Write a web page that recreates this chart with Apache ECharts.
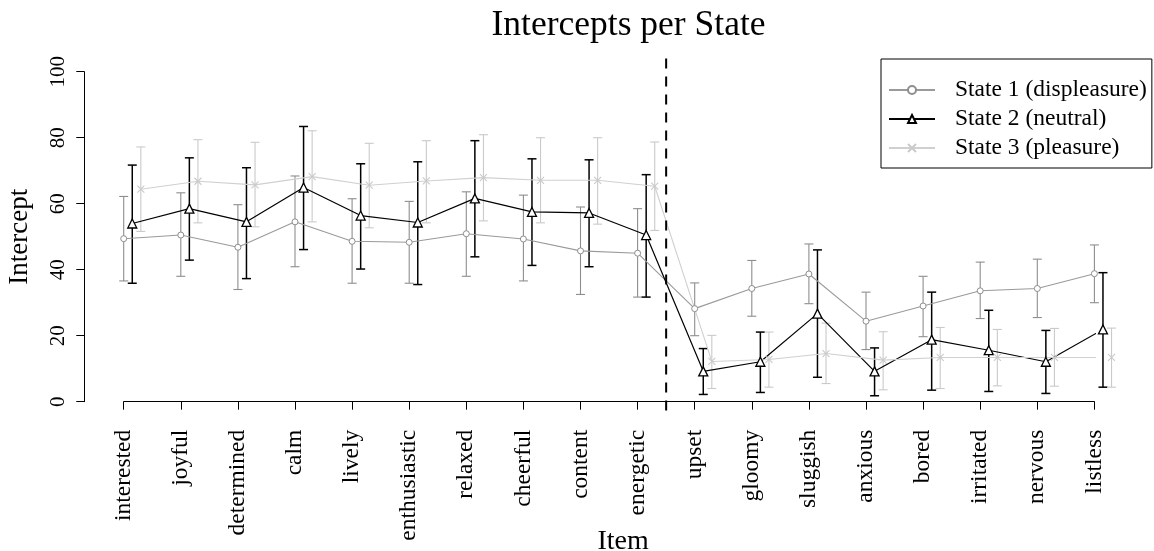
<!DOCTYPE html>
<html>
<head>
<meta charset="utf-8">
<script src="https://cdn.jsdelivr.net/npm/echarts@6/dist/echarts.min.js"></script>
<style>html,body{margin:0;padding:0;background:#fff;}#chart{width:1154px;height:551px;}</style>
</head>
<body>
<div id="chart"></div>
<script>
const items = ['interested','joyful','determined','calm','lively','enthusiastic','relaxed','cheerful','content','energetic','upset','gloomy','sluggish','anxious','bored','irritated','nervous','listless'];
const yTicks = [0, 20, 40, 60, 80, 100];

const s1Mean = [49.4, 50.5, 46.8, 54.5, 48.6, 48.3, 50.9, 49.3, 45.7, 45.0, 28.2, 34.3, 38.7, 24.4, 29.0, 33.6, 34.3, 38.8];
const s1Low  = [36.6, 38.0, 34.0, 40.9, 35.9, 35.9, 38.0, 36.6, 32.5, 31.7, 20.0, 25.9, 29.7, 15.8, 19.7, 25.2, 25.5, 30.0];
const s1High = [62.2, 63.3, 59.7, 68.4, 61.5, 60.7, 63.6, 62.6, 59.0, 58.5, 36.0, 42.8, 47.8, 33.2, 38.0, 42.3, 43.2, 47.5];

const s2Mean = [54.0, 58.5, 54.5, 64.9, 56.4, 54.3, 61.6, 57.5, 57.2, 50.5, 9.2, 12.1, 26.7, 9.2, 18.8, 15.6, 12.1, 21.9];
const s2Low  = [35.9, 42.9, 37.3, 46.1, 40.2, 35.5, 43.9, 41.3, 40.9, 31.7, 2.2, 2.8, 7.4, 1.8, 3.5, 3.1, 2.5, 4.4];
const s2High = [71.7, 73.9, 70.9, 83.4, 72.1, 72.7, 79.1, 73.6, 73.3, 68.8, 16.1, 21.1, 46.0, 16.3, 33.2, 27.7, 21.6, 39.1];

const s3Mean = [64.4, 66.8, 65.7, 68.2, 65.6, 66.9, 67.9, 67.1, 67.1, 65.3, 12.2, 12.8, 14.6, 12.6, 13.4, 13.4, 13.4, 13.4];
const s3Low  = [51.6, 54.2, 53.0, 54.5, 52.7, 54.2, 54.8, 54.2, 53.8, 51.9, 4.0, 4.4, 5.5, 3.6, 4.0, 4.8, 4.7, 4.4];
const s3High = [77.2, 79.4, 78.6, 82.1, 78.3, 79.1, 80.9, 80.0, 80.0, 78.7, 20.1, 21.1, 23.8, 21.2, 22.5, 21.9, 22.2, 22.3];

const seriesNames = ['State 1 (displeasure)', 'State 2 (neutral)', 'State 3 (pleasure)'];
const offsets = [0, 0.15, 0.3];
const dividerX = 10.5;
const dividerRange = [-4, 104];

const FONT = 'Liberation Serif';
const states = [
  {mean: s1Mean, low: s1Low, high: s1High, color: '#8e8e8e', lineColor: '#9a9a9a', barW: 1.1, symbol: 'circle', size: 6, fill: '#fff', bw: 1},
  {mean: s2Mean, low: s2Low, high: s2High, color: '#000000', lineColor: '#000000', barW: 1.5, symbol: 'triangle', size: 9, fill: '#fff', bw: 1.3},
  {mean: s3Mean, low: s3Low, high: s3High, color: '#cacaca', lineColor: '#d0d0d0', barW: 1.1, symbol: 'path://M0,0L10,10M10,0L0,10', size: 7, fill: 'none', bw: 1.1}
];

function errRender(color, width) {
  return function (params, api) {
    const x = api.value(0), lo = api.value(1), hi = api.value(2);
    const a = api.coord([x, lo]), b = api.coord([x, hi]);
    const h = 4.5;
    const st = {stroke: color, lineWidth: width};
    return {type: 'group', children: [
      {type: 'line', shape: {x1: a[0], y1: a[1], x2: b[0], y2: b[1]}, style: st},
      {type: 'line', shape: {x1: a[0] - h, y1: a[1], x2: a[0] + h, y2: a[1]}, style: st},
      {type: 'line', shape: {x1: b[0] - h, y1: b[1], x2: b[0] + h, y2: b[1]}, style: st}
    ]};
  };
}

const series = [];
states.forEach((s, k) => {
  series.push({
    type: 'custom', name: 'err' + k, clip: false, silent: true, z: 2,
    renderItem: errRender(s.color, s.barW),
    data: items.map((_, i) => [i + 1 + offsets[k], s.low[i], s.high[i]])
  });
});
states.forEach((s, k) => {
  series.push({
    type: 'line', name: seriesNames[k], clip: false, z: 3,
    symbol: s.symbol, symbolSize: s.size, showSymbol: true,
    lineStyle: {color: s.lineColor, width: k === 1 ? 1.2 : 1.1},
    itemStyle: {color: s.fill, borderColor: s.color, borderWidth: s.bw},
    emphasis: {disabled: true},
    data: items.map((_, i) => [i + 1 + offsets[k], s.mean[i]])
  });
});
series.push({
  type: 'custom', name: 'divider', clip: false, silent: true, z: 4,
  renderItem: function (params, api) {
    const a = api.coord([api.value(0), api.value(2)]);
    const b = api.coord([api.value(0), api.value(1)]);
    return {type: 'line', shape: {x1: a[0], y1: a[1], x2: b[0], y2: b[1]},
      style: {stroke: '#000', lineWidth: 2, lineDash: [10, 8]}};
  },
  data: [[dividerX, dividerRange[0], dividerRange[1]]]
});

const chart = echarts.init(document.getElementById('chart'), null, {renderer: 'canvas'});
chart.setOption({
  animation: false,
  backgroundColor: '#fff',
  title: {
    text: 'Intercepts per State', left: 623.5, top: 3, textAlign: 'center',
    textStyle: {fontFamily: FONT, fontSize: 35.5, fontWeight: 'normal', color: '#000'}
  },
  legend: {
    data: seriesNames, orient: 'vertical', left: 881, top: 59,
    padding: [19, 5, 8, 7], itemGap: 5, itemWidth: 46, itemHeight: 10,
    borderColor: '#000', borderWidth: 1, borderRadius: 0,
    selectedMode: false,
    textStyle: {fontFamily: FONT, fontSize: 23.5, lineHeight: 24, color: '#000', padding: [0, 0, 0, 15]}
  },
  grid: {left: 123.7, right: 59.6, top: 71.7, bottom: 149.3, containLabel: false, outerBoundsMode: 'none'},
  xAxis: {
    type: 'value', min: 1, max: 18, offset: 14,
    name: 'Item', nameLocation: 'middle', nameGap: 112, nameMoveOverlap: false,
    nameTextStyle: {fontFamily: FONT, fontSize: 28, color: '#000', padding: [0, 0, 0, 28]},
    axisLine: {show: true, lineStyle: {color: '#000', width: 1}},
    axisTick: {show: true, length: 8, customValues: items.map((_, i) => i + 1), lineStyle: {color: '#000'}},
    axisLabel: {
      customValues: items.map((_, i) => i + 1), rotate: 90, margin: 14,
      fontFamily: FONT, fontSize: 23.5, color: '#000',
      formatter: v => items[Math.round(v) - 1]
    },
    splitLine: {show: false}
  },
  yAxis: {
    type: 'value', min: 0, max: 100, interval: 20, offset: 39.4,
    name: 'Intercept', nameLocation: 'middle', nameGap: 51, nameRotate: 90, nameMoveOverlap: false,
    nameTextStyle: {fontFamily: FONT, fontSize: 27, color: '#000'},
    axisLine: {show: true, lineStyle: {color: '#000', width: 1}},
    axisTick: {show: true, length: 8, customValues: yTicks, lineStyle: {color: '#000'}},
    axisLabel: {customValues: yTicks, rotate: 90, margin: 15, fontFamily: FONT, fontSize: 21, color: '#000'},
    splitLine: {show: false}
  },
  series: series
});
</script>
</body>
</html>
